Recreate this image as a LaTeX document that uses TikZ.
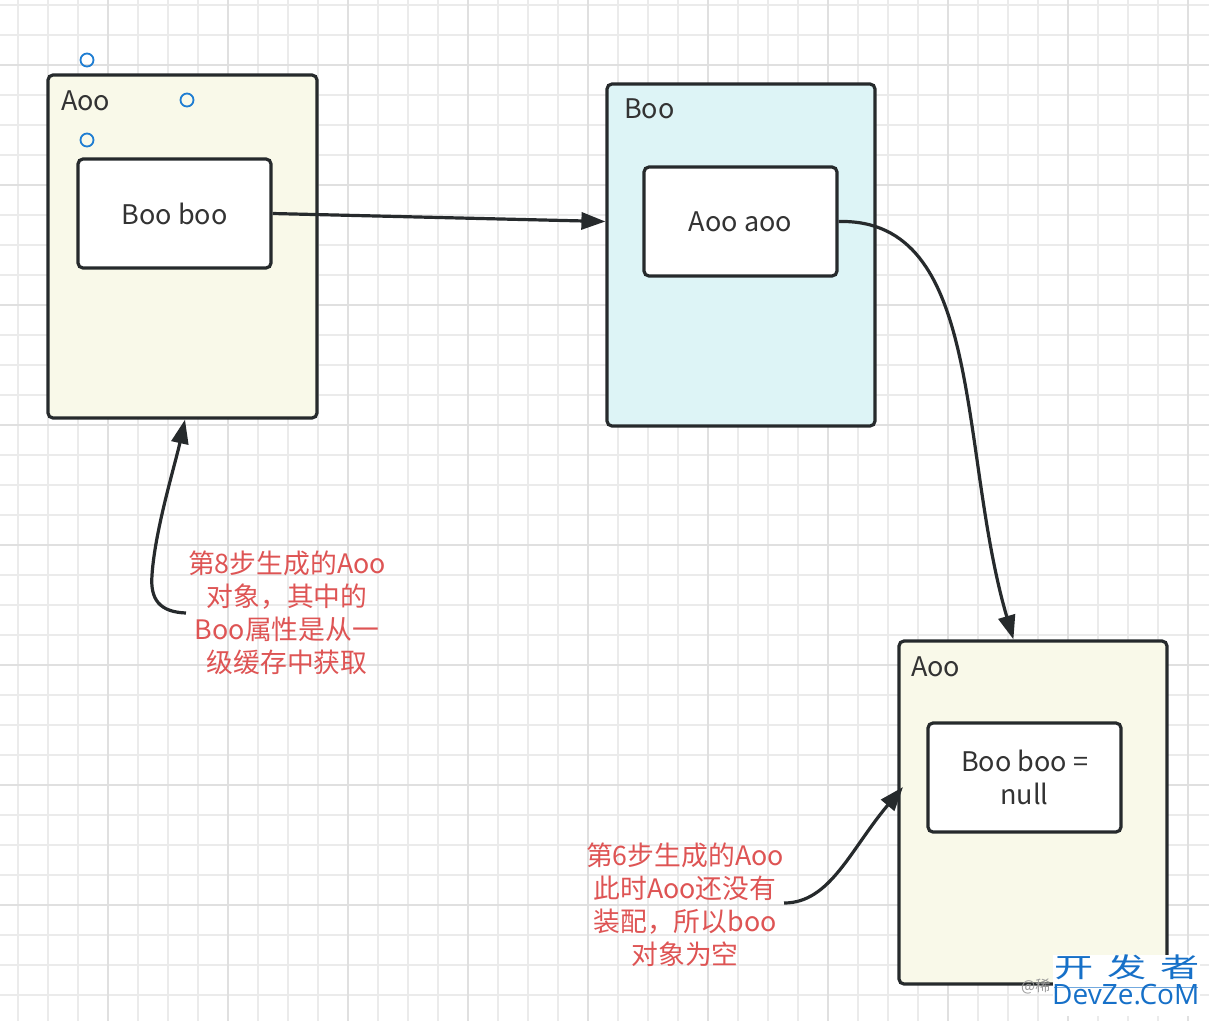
\documentclass[tikz,border=0pt]{standalone}
\usepackage{fontspec}
\setmainfont{Noto Sans CJK SC}
\newfontfamily\wmfont[FakeStretch=1.45]{Noto Sans CJK SC}
\newfontfamily\wmlat{Open Sans}
\usetikzlibrary{arrows.meta,calc}
\definecolor{gridminor}{RGB}{235,235,235}
\definecolor{gridmajor}{RGB}{224,224,224}
\definecolor{boxline}{RGB}{38,42,44}
\definecolor{creamfill}{RGB}{249,249,233}
\definecolor{cyanfill}{RGB}{221,244,246}
\definecolor{notered}{RGB}{222,84,84}
\definecolor{labelgray}{RGB}{51,51,51}
\definecolor{handleblue}{RGB}{30,125,210}
\definecolor{wmblue}{RGB}{22,112,200}
\tikzset{
  outerbox/.style={draw=boxline, line width=3.2pt, rounded corners=5pt, inner sep=0pt},
  innerbox/.style={draw=boxline, line width=3.2pt, rounded corners=5pt, fill=white, inner sep=0pt,
    minimum width=193pt, minimum height=109pt, text=labelgray, align=center,
    font=\fontsize{27}{33}\selectfont},
  boxlabel/.style={anchor=west, inner sep=0pt, text=labelgray, font=\fontsize{27}{30}\selectfont},
  notetext/.style={inner sep=0pt, text=notered, align=center, font=\fontsize{26.8}{33}\selectfont},
  connector/.style={draw=boxline, line width=3.2pt, -{Triangle[length=24pt,width=17pt]}},
  handle/.style={circle, draw=handleblue, line width=1.8pt, minimum size=13pt, inner sep=0pt}
}
\begin{document}
\begin{tikzpicture}[x=1pt,y=-1pt]
\useasboundingbox (0,0) rectangle (1209,1021);
\fill[white] (0,0) rectangle (1209,1021);
% grid
\foreach \x in {18,48,...,1208} \draw[gridminor, line width=1.4pt] (\x,0) -- (\x,1021);
\foreach \y in {5,35,...,1020} \draw[gridminor, line width=1.4pt] (0,\y) -- (1209,\y);
\foreach \x in {108,228,...,1200} \draw[gridmajor, line width=1.8pt] (\x,0) -- (\x,1021);
\foreach \y in {65,185,...,1020} \draw[gridmajor, line width=1.8pt] (0,\y) -- (1209,\y);

% boxes
\node[outerbox, fill=creamfill, minimum width=269pt, minimum height=343pt] (aooA) at (182.5,246.5) {};
\node[boxlabel] (aooAlbl) at (61,101) {Aoo};
\node[innerbox] (booboo) at (174.5,213.5) {Boo boo};

\node[outerbox, fill=cyanfill, minimum width=268pt, minimum height=342pt] (boo) at (741,255) {};
\node[boxlabel] (boolbl) at (624,109) {Boo};
\node[innerbox] (aooaoo) at (740.5,221.5) {Aoo aoo};

\node[outerbox, fill=creamfill, minimum width=268pt, minimum height=343pt] (aooB) at (1033,812.5) {};
\node[boxlabel] (aooBlbl) at (911,667) {Aoo};
\node[innerbox] (boonull) at (1024.5,777.5) {Boo boo =\\null};

% selection handles
\node[handle] (h1) at (87,60) {};
\node[handle] (h2) at (187,100) {};
\node[handle] (h3) at (87,140) {};

% notes
\node[notetext] (note1) at (287,613) {第8步生成的Aoo\\对象，其中的\\Boo属性是从一\\级缓存中获取};
\node[notetext] (note2) at (685,905) {第6步生成的Aoo\\此时Aoo还没有\\装配，所以boo\\对象为空};

% connectors
\draw[connector] (booboo.east) -- (boo.west |- aooaoo.west);
\draw[connector] (aooaoo.east) .. controls (985,218) and (958,450) .. ($(aooB.north west)+(116,0)$);
\draw[connector] ($(note1.west)+(-2,0)$) .. controls (160,612) and (150,600) .. (152,575)
   .. controls (155,530) and (175,465) .. (aooA.south -| 185,0);
\coordinate (tip4) at (903,787);
\draw[connector] (note2.east |- 0,903) .. controls (830,903) and (850,850) .. (tip4);

% watermark
\node[anchor=west, inner sep=0pt, text=gray!80, font=\fontsize{15}{15}\selectfont] (wmat) at (1021,986) {@稀};
\fill[white] (1053,955) rectangle (1200,1016);
\node[anchor=north west, inner sep=0pt, text=wmblue, font=\wmfont\fontsize{27}{27}\selectfont] (wm1) at (1054,954) {开\hspace{14pt}发\hspace{14pt}者};
\draw[wmblue!60, line width=0.8pt] (1054,987.5) -- (1198,987.5);
\node[anchor=north west, inner sep=0pt, text=wmblue, font=\wmlat\fontsize{28}{28}\selectfont] (wm2) at (1052,984) {DevZe.CoM};
\end{tikzpicture}
\end{document}
